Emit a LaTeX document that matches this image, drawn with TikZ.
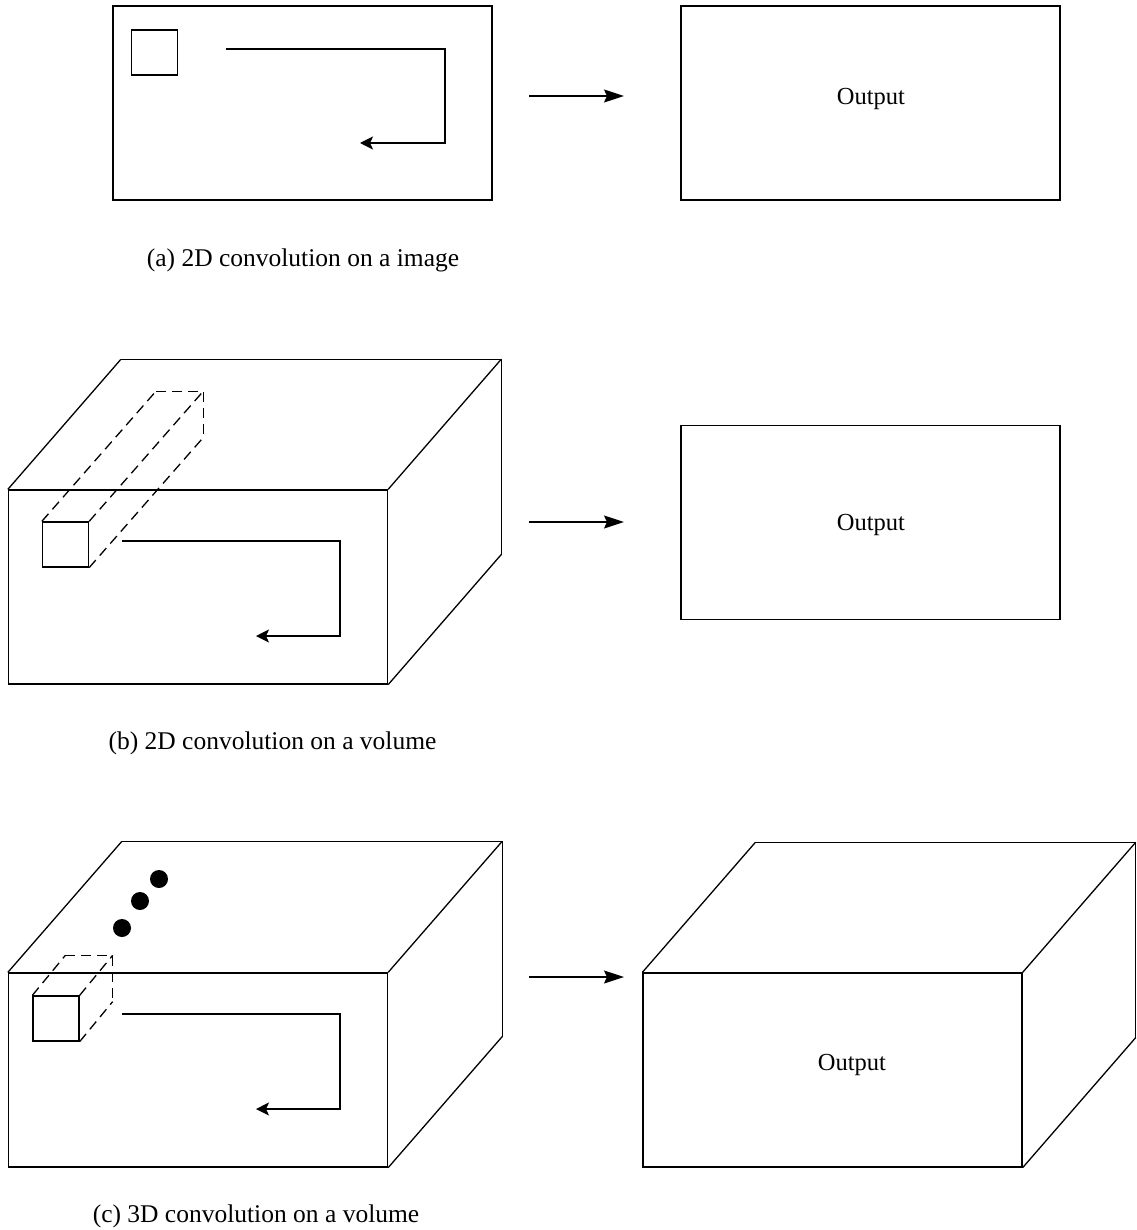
\documentclass[tikz,border=0pt]{standalone}
\usepackage{fontspec}
\setmainfont{Liberation Serif}
\usetikzlibrary{calc,positioning,arrows.meta}

\begin{document}
\begin{tikzpicture}[x=1pt, y=-1pt, line width=1.3pt,
  every node/.style={font=\fontsize{24.5}{29}\selectfont},
  caption/.style={font=\fontsize{25.5}{30}\selectfont},
  face/.style={draw, minimum width=379pt, minimum height=194pt, inner sep=0pt},
  kernel/.style={draw, minimum width=46pt, minimum height=45pt, inner sep=0pt},
  hidden/.style={dash pattern=on 10pt off 6pt},
  slide/.style={-{Stealth[length=13pt,width=13pt,inset=3pt]}},
  maps/.style={-{Stealth[length=20pt,width=13pt,inset=3pt]}}]
\useasboundingbox (0,0) rectangle (1136,1230);

% (a) image
\node[face] (imgA) at (302.5,103) {};
\node[kernel] (kerA) at (154.5,52.5) {};
\coordinate (sA) at (226,49);
\coordinate (tA) at (360,143);
\draw[slide] (sA) -| (445,143) -- (tA);

\coordinate (inA) at (529,96);
\coordinate (toA) at (624,96);
\draw[maps] (inA) -- (toA);
\node[face] (outA) at (870.5,103) {};
\node (labA) at (871,99) {Output};
\node[caption] (capA) at (303,260) {(a) 2D convolution on a image};

% (b) volume, 2D kernel through full depth
\node[face] (volB) at (198,587) {};
\foreach \c in {north west, north east, south east}
  \draw (volB.\c) -- ++(113,-130);
\draw ($(volB.north west)+(113,-130)$) -- ($(volB.north east)+(113,-130)$)
   -- ($(volB.south east)+(113,-130)$);

\node[kernel] (kerB) at (65.5,544.5) {};
\foreach \c in {north west, north east, south east}
  \draw[hidden] (kerB.\c) -- ++(114,-130);
\draw[hidden] ($(kerB.north west)+(114,-130)$) -- ($(kerB.north east)+(114,-130)$)
   -- ($(kerB.south east)+(114,-130)$);

\coordinate (sB) at (122,541);
\coordinate (tB) at (256,636);
\draw[slide] (sB) -| (340,636) -- (tB);

\coordinate (inB) at (529,522);
\coordinate (toB) at (624,522);
\draw[maps] (inB) -- (toB);
\node[face] (outB) at (870.5,522.5) {};
\node (labB) at (871,525) {Output};
\node[caption] (capB) at (272.5,743) {(b) 2D convolution on a volume};

% (c) volume, 3D kernel
\node[face] (volC) at (198,1070) {};
\foreach \c in {north west, north east, south east}
  \draw (volC.\c) -- ++(114,-131);
\draw ($(volC.north west)+(114,-131)$) -- ($(volC.north east)+(114,-131)$)
   -- ($(volC.south east)+(114,-131)$);

\node[kernel] (kerC) at (56,1018.5) {};
\foreach \c in {north west, north east, south east}
  \draw[hidden] (kerC.\c) -- ++(33,-40);
\draw[hidden] ($(kerC.north west)+(33,-40)$) -- ($(kerC.north east)+(33,-40)$)
   -- ($(kerC.south east)+(33,-40)$);

% dots along the depth
\foreach \p in {(122,928), (140,901), (159,879)}
  \fill \p circle (9);

\coordinate (sC) at (122,1014);
\coordinate (tC) at (256,1109);
\draw[slide] (sC) -| (340,1109) -- (tC);

\coordinate (inC) at (529,977);
\coordinate (toC) at (624,977);
\draw[maps] (inC) -- (toC);
\node[face] (outC) at (832.5,1070) {};
\foreach \c in {north west, north east, south east}
  \draw (outC.\c) -- ++(113,-130);
\draw ($(outC.north west)+(113,-130)$) -- ($(outC.north east)+(113,-130)$)
   -- ($(outC.south east)+(113,-130)$);
\node (labC) at (852,1065) {Output};
\node[caption] (capC) at (256,1216) {(c) 3D convolution on a volume};

\end{tikzpicture}
\end{document}
